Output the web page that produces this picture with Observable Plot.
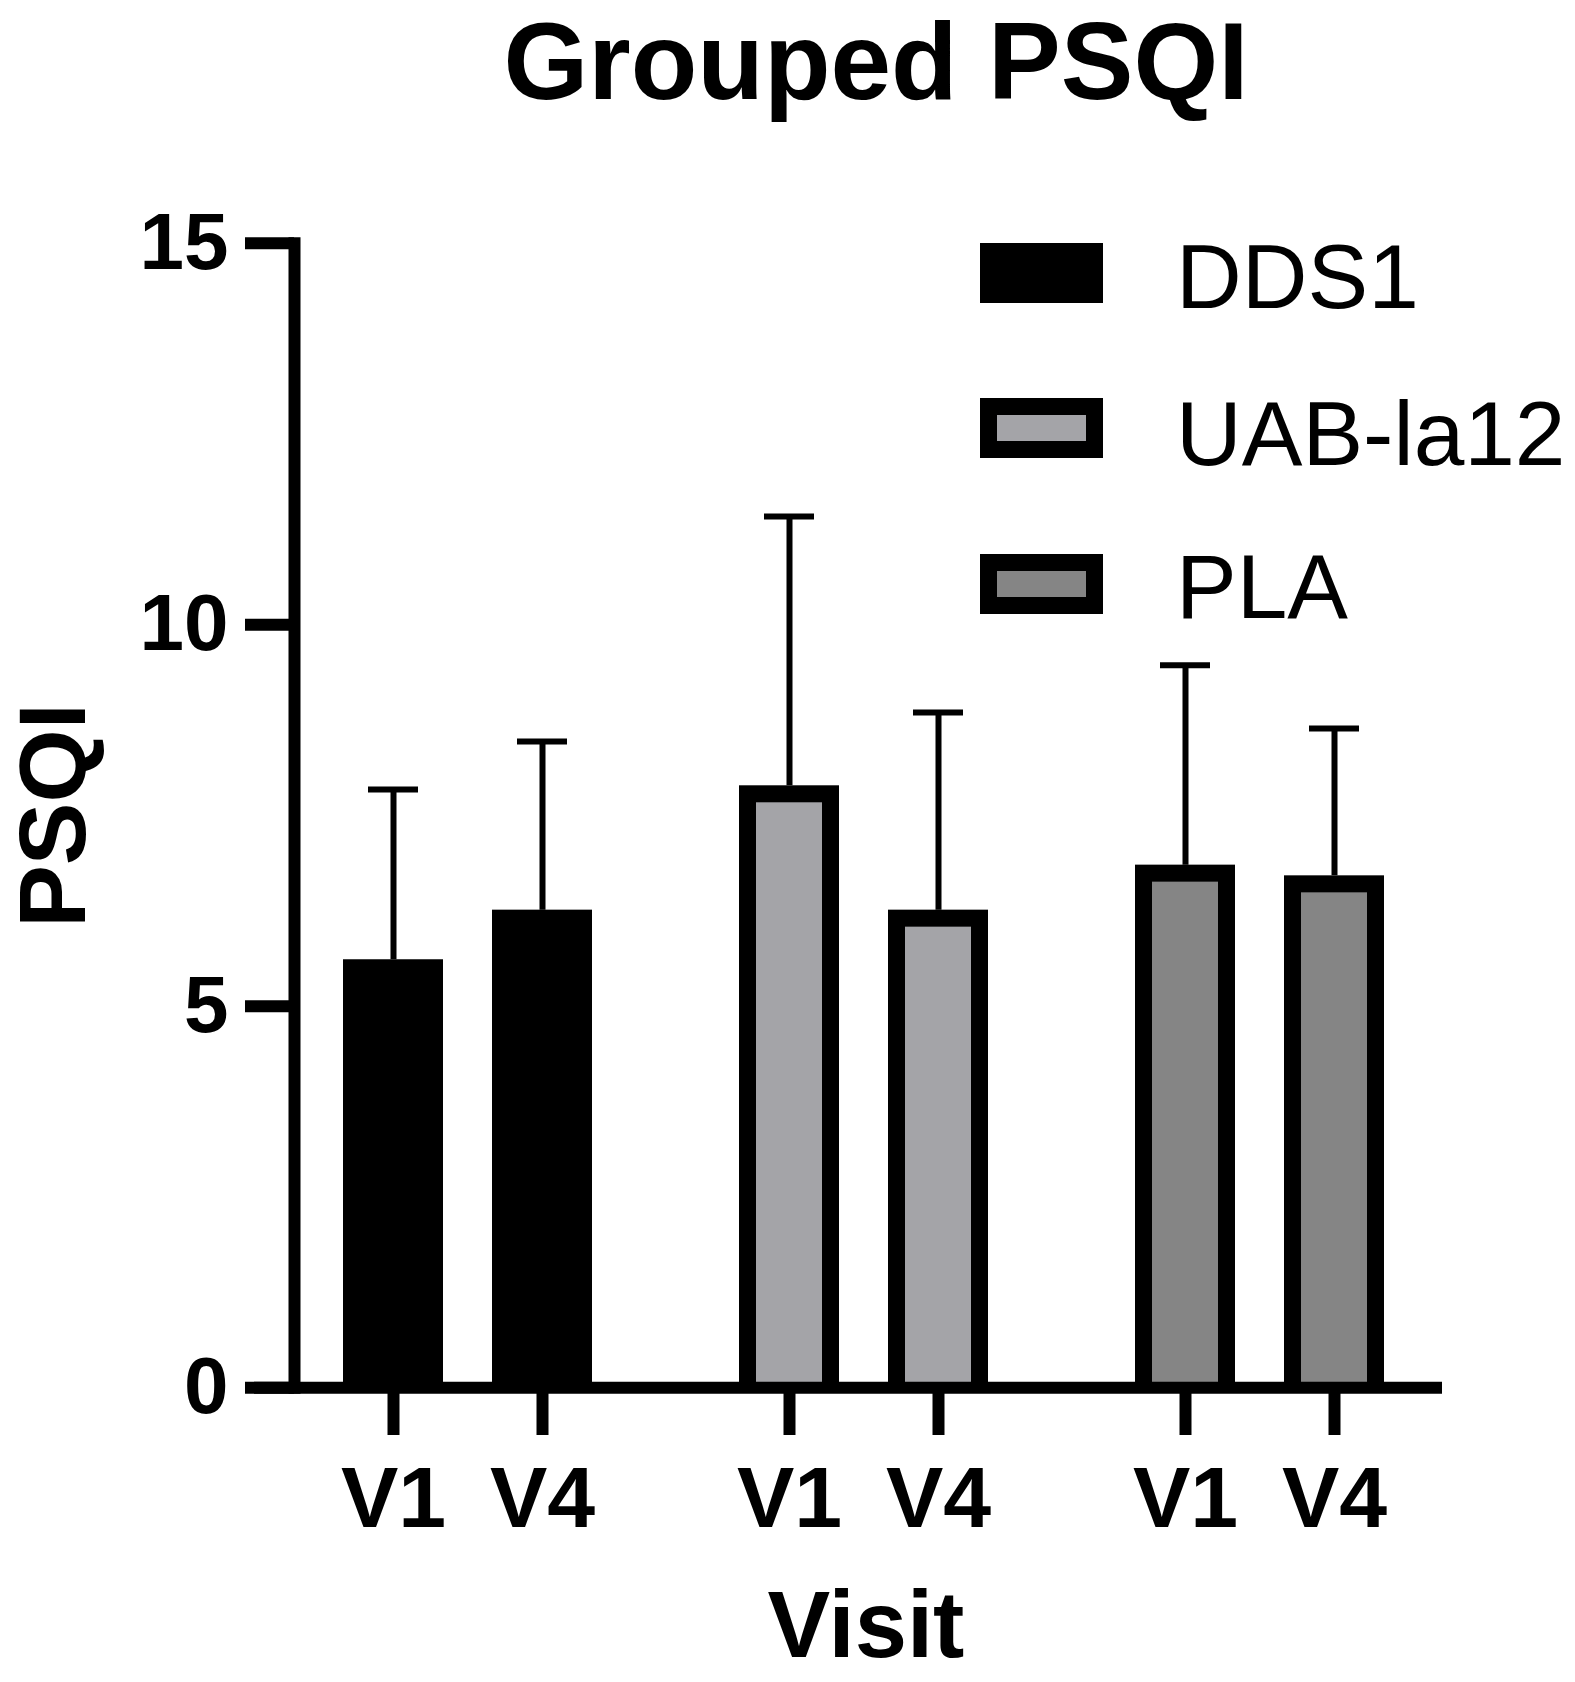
<!DOCTYPE html>
<html>
<head>
<meta charset="utf-8">
<script src="https://cdn.jsdelivr.net/npm/d3@7"></script>
<script src="https://cdn.jsdelivr.net/npm/@observablehq/plot@0.6"></script>
<style>
  html, body { margin: 0; padding: 0; background: #fff; }
  #wrap { position: relative; width: 1575px; height: 1682px; overflow: hidden; background: #fff;
          font-family: "Liberation Sans", Arial, Helvetica, sans-serif; color: #000; }
  #title { position: absolute; left: 0; top: 7px; width: 1575px; box-sizing: border-box; padding-left: 177px;
           text-align: center; font-size: 109px; line-height: 109px; font-weight: bold; white-space: nowrap; }
  #chart { position: absolute; left: 0; top: 0; }
  .lg-swatch { position: absolute; box-sizing: border-box; width: 123px; height: 60px; border: 17px solid #000; }
  .lg-text { position: absolute; font-size: 91px; line-height: 91px; white-space: nowrap; }
</style>
</head>
<body>
<div id="wrap">
  <div id="chart"></div>
  <div id="title">Grouped PSQI</div>
  <div id="legend"></div>
</div>
<script>
// ---- data ----
const groups = ["DDS1", "UAB-la12", "PLA"];
const visits = ["V1", "V4"];
const meanDDS1 = [5.61, 6.26];
const sdDDS1   = [2.23, 2.21];
const meanUAB  = [7.89, 6.26];
const sdUAB    = [3.53, 2.59];
const meanPLA  = [6.85, 6.71];
const sdPLA    = [2.62, 1.93];
const yTicks = [0, 5, 10, 15];
const yLabel = "PSQI";
const xLabel = "Visit";

// ---- styles ----
const fills = ["#000000", "#a4a4a8", "#858585"];
const FONT = '"Liberation Sans", Arial, Helvetica, sans-serif';

const means = [meanDDS1, meanUAB, meanPLA];
const sds = [sdDDS1, sdUAB, sdPLA];
const rows = groups.flatMap((g, gi) =>
  visits.map((v, vi) => ({group: g, visit: v, mean: means[gi][vi], sd: sds[gi][vi]}))
);

const chart = Plot.plot({
  width: 1575,
  height: 1682,
  marginLeft: 294,
  marginRight: 130,
  marginTop: 242.8,
  marginBottom: 294.7,
  style: {fontFamily: FONT, color: "#000", background: "transparent", overflow: "visible"},
  fx: {domain: groups, paddingInner: 45 / 397, paddingOuter: 0.0063, align: 0},
  x: {domain: visits, paddingInner: 0.331, paddingOuter: 0.34275, align: 0.4756},
  y: {domain: [0, 15]},
  color: {domain: groups, range: fills},
  marks: [
    // outer black border of each bar
    Plot.barY(rows, {fx: "group", x: "visit", y: "mean", fill: "#000"}),
    // inner fill
    Plot.barY(rows, {fx: "group", x: "visit", y: "mean", fill: "group",
      insetLeft: 17, insetRight: 17, insetTop: 17}),
    Plot.ruleX(rows, {fx: "group", x: "visit", y1: "mean", y2: d => d.mean + d.sd,
      stroke: "#000", strokeWidth: 6}),
    Plot.tickY(rows, {fx: "group", x: "visit", y: d => d.mean + d.sd,
      stroke: "#000", strokeWidth: 6, insetLeft: 25, insetRight: 25}),
    // baseline, bridged across the gaps between groups
    Plot.ruleY([0], {stroke: "#000", strokeWidth: 12, insetLeft: -40, insetRight: -5}),
    Plot.frame({anchor: "left", facetAnchor: "left", stroke: "#000", strokeWidth: 12, strokeLinecap: "square"}),
    Plot.axisY({ticks: yTicks, tickSize: 49, tickPadding: 17, strokeWidth: 12,
      fontSize: 80, fontWeight: "bold", label: null, tickFormat: d => String(d)}),
    Plot.axisY({ticks: [], tickSize: 0, label: yLabel, labelAnchor: "center", labelArrow: false,
      labelOffset: 276, fontSize: 94, fontWeight: "bold"}),
    Plot.axisX({tickSize: 47.7, tickPadding: 30, strokeWidth: 12,
      fontSize: 86, fontWeight: "bold", label: null}),
    Plot.axisFx({anchor: "bottom", ticks: [], tickSize: 0, label: xLabel, labelAnchor: "center",
      labelArrow: false, labelOffset: 269, fontSize: 94, fontWeight: "bold"})
  ]
});
document.getElementById("chart").appendChild(chart);

// ---- legend ----
const legend = document.getElementById("legend");
const rowTops = [243, 398, 554];
const textBaselines = [308, 465, 618];
groups.forEach((g, i) => {
  const sw = document.createElement("div");
  sw.className = "lg-swatch";
  sw.style.left = "980px";
  sw.style.top = rowTops[i] + "px";
  sw.style.background = fills[i];
  legend.appendChild(sw);
  const tx = document.createElement("div");
  tx.className = "lg-text";
  tx.style.left = "1176px";
  tx.style.top = (textBaselines[i] - 77) + "px";
  tx.textContent = g;
  legend.appendChild(tx);
});
</script>
</body>
</html>
